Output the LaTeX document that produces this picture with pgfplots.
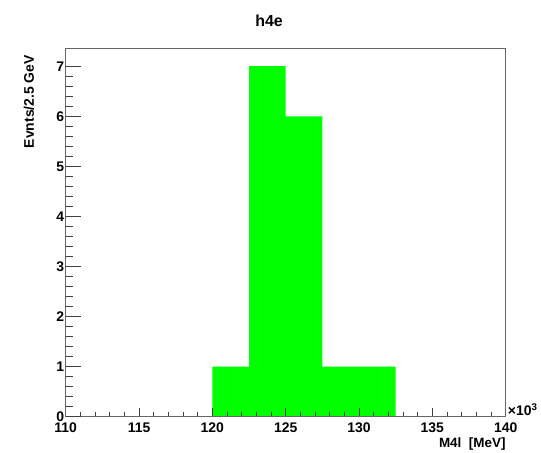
\documentclass[border=0pt]{standalone}
\usepackage{pgfplots}
\pgfplotsset{compat=1.18}
\usepackage{fontspec}
\setmainfont{Liberation Sans}
\definecolor{rootgreen}{RGB}{0,255,0}
\pgfplotsset{rootframe/.style={
  at={(65.7bp,36.3bp)}, anchor=south west,
  width=440bp, height=368bp, scale only axis,
  xmin=110, xmax=140, ymin=0, ymax=7.35,
  tick align=inside,
  tick style={black!75, line width=0.8bp},
  /pgf/number format/assume math mode=true,
  ticklabel style={font=\bfseries\fontsize{14}{14}\selectfont},
  clip=false,
}}
\begin{document}
\begin{tikzpicture}[x=1bp,y=1bp]
\useasboundingbox (0,0) rectangle (541,453);
\node[font=\bfseries\fontsize{16}{16}\selectfont, anchor=base] at (269,426) {h4e};
\node[font=\bfseries\fontsize{14}{14}\selectfont, rotate=90, anchor=east, inner sep=0pt] at (29,398) {Evnts/2.5 GeV};
\begin{axis}[rootframe,
  xtick={110,115,...,140}, minor x tick num=4,
  ytick=\empty,
  xtick pos=bottom,
  major tick length=9bp, minor tick length=4.5bp,
  axis on top,
  axis line style={line width=1bp, black!60},
  xticklabel style={yshift=-3bp},
]
\addplot[ybar interval, fill=rootgreen, draw=none] coordinates {
  (120,1) (122.5,7) (125,6) (127.5,1) (130,1) (132.5,1)
};
\addplot[rootgreen!70!black, line width=1.2bp] coordinates {(110,0) (140,0)};
\node[font=\bfseries\fontsize{13.5}{13.5}\selectfont, anchor=north east, inner sep=0pt] at (rel axis cs:1,0) [yshift=-21bp] {M4l \ [MeV]};
\node[font=\bfseries\fontsize{14}{14}\selectfont, anchor=south west, inner sep=1bp] at (rel axis cs:1,0) [xshift=1bp] {×10\textsuperscript{3}};
\end{axis}
\begin{axis}[rootframe,
  xtick=\empty,
  ytick={0,1,...,7}, minor y tick num=4,
  ytick pos=left,
  major tick length=15bp, minor tick length=7bp,
  axis line style={draw=none},
  yticklabel style={xshift=2bp},
]
\end{axis}
\end{tikzpicture}
\end{document}
